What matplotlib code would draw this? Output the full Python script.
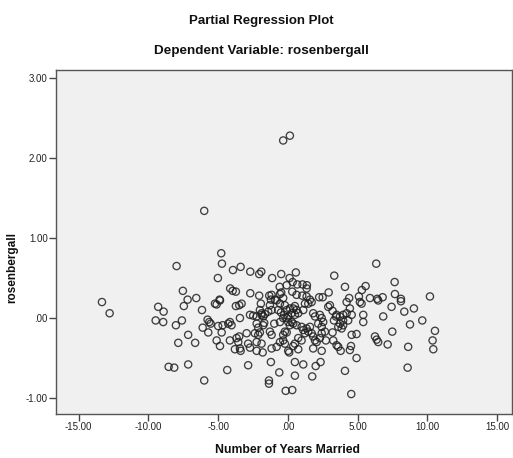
import matplotlib.pyplot as plt
from matplotlib.ticker import FuncFormatter

plt.rcParams['font.family'] = ['Liberation Sans', 'DejaVu Sans']

# partial residuals: years married (x) vs rosenbergall (y)
years = [
    -13.33, -12.78, -6.00, -0.34, 0.14, 6.33, -7.98, -7.53, -7.19, -6.57,
    -7.46, -9.30, -8.91, -9.48, -8.94, -8.03, -7.60, -6.16, -5.76, -6.11,
    -5.71, -7.15, -7.86, -6.65, -8.55, -8.15, -7.15, -6.00, -4.78, -4.73,
    -3.94, -3.39, -5.02, -2.70, -2.06, -1.91, -1.13, -0.48, 0.57, 0.12,
    3.32, -4.14, -3.96, -3.73, -2.70, -2.06, -1.34, -0.59, -0.48, -0.09,
    0.34, 0.67, 1.05, 1.36, 1.34, 0.31, 0.62, 1.03, 1.34, 2.24,
    2.49, 2.92, -4.90, 7.65, 4.09, 5.57, 5.30, 7.67, 10.18, 4.39,
    5.09, 5.88, 6.40, 6.79, 8.10, -5.23, -5.11, -4.87, -3.73, -3.49,
    -3.32, -1.17, -0.57, -1.94, -1.29, -0.81, -0.57, -0.34, -2.01, -1.89,
    -1.41, -1.17, -0.70, -0.50, -0.27, -2.72, -2.49, -2.24, -1.89, -1.77,
    -1.65, -3.44, -4.28, -4.16, -4.04, -2.24, -1.77, -2.13, -1.70, -0.98,
    -0.57, -0.34, -2.96, -2.37, -2.13, -2.01, -1.29, -1.17, -4.16, -3.56,
    -2.85, -2.24, -1.89, -0.57, -0.34, -3.44, -2.72, -1.17, -0.81, -5.64,
    -5.54, -5.00, -4.68, -4.75, -5.11, -4.87, -3.68, -3.49, -3.80, -3.39,
    -2.24, -1.81, 0.02, 0.09, 0.38, 0.74, 2.42, -1.22, -2.85, -4.35,
    -0.62, 0.50, 1.10, 0.50, 1.99, 2.34, 1.74, -1.36, -1.36, -0.16,
    0.31, 4.54, -0.09, 1.58, 1.46, 1.70, 3.01, 2.89, -0.22, -0.09,
    0.14, 0.38, 0.50, 0.27, 0.50, 0.02, -0.09, 0.62, 0.74, 0.27,
    0.38, 0.14, 0.02, 0.62, 1.22, 1.10, 1.81, 1.94, 2.29, 2.42,
    2.53, 2.17, 3.20, 3.30, 3.44, 0.98, 1.34, 1.58, 1.10, 1.22,
    1.46, 1.70, 1.81, 1.94, 2.06, 2.29, 2.42, 2.65, -0.22, -0.34,
    -0.22, 0.74, 0.50, 0.98, 1.81, 3.25, 3.61, 4.21, 5.16, 5.28,
    6.47, 3.49, 3.73, 3.96, 4.21, 4.44, 4.57, 4.32, 3.96, 3.73,
    3.61, 3.85, 3.96, 5.40, 5.40, 6.83, 7.43, 4.57, 4.92, 6.24,
    6.36, 6.47, 7.48, 7.15, 3.49, 4.44, 8.34, 9.03, 9.63, 8.75,
    2.42, 2.72, 3.78, 8.62, 8.58, 10.54, 10.37, 10.42, 4.92, 4.09,
    4.52, 8.10, 3.20, -1.22, -0.93,
]
rosen = [
    0.20, 0.06, 1.34, 2.22, 2.28, 0.68, 0.65, 0.34, 0.23, 0.25,
    0.15, 0.14, 0.08, -0.03, -0.05, -0.09, -0.03, 0.10, -0.02, -0.12,
    -0.18, -0.21, -0.31, -0.31, -0.61, -0.62, -0.58, -0.78, 0.81, 0.68,
    0.60, 0.64, 0.50, 0.58, 0.55, 0.58, 0.50, 0.55, 0.57, 0.50,
    0.53, 0.37, 0.34, 0.33, 0.31, 0.28, 0.28, 0.39, 0.32, 0.41,
    0.45, 0.42, 0.42, 0.41, 0.37, 0.33, 0.29, 0.28, 0.27, 0.26,
    0.26, 0.32, 0.23, 0.45, 0.39, 0.40, 0.35, 0.30, 0.27, 0.25,
    0.27, 0.25, 0.24, 0.26, 0.24, 0.18, 0.17, 0.22, 0.15, 0.16,
    0.18, 0.29, 0.30, 0.18, 0.16, 0.22, 0.18, 0.25, 0.10, 0.06,
    0.08, 0.10, 0.10, 0.07, 0.04, 0.04, 0.03, 0.02, 0.04, 0.02,
    0.05, 0.00, -0.07, -0.05, -0.09, -0.07, -0.09, -0.12, -0.06, -0.07,
    -0.05, 0.00, -0.19, -0.19, -0.21, -0.18, -0.17, -0.21, -0.28, -0.30,
    -0.32, -0.30, -0.32, -0.30, -0.21, -0.38, -0.37, -0.38, -0.36, -0.05,
    -0.07, -0.10, -0.09, -0.18, -0.28, -0.35, -0.25, -0.23, -0.39, -0.41,
    -0.41, -0.43, -0.41, -0.43, -0.35, -0.39, -0.41, -0.55, -0.59, -0.65,
    -0.68, -0.55, -0.58, -0.72, -0.60, -0.55, -0.73, -0.78, -0.82, -0.91,
    -0.90, -0.95, -0.18, 0.23, 0.18, 0.20, 0.16, 0.14, 0.16, 0.10,
    0.12, 0.12, 0.15, 0.06, 0.04, 0.02, 0.00, 0.10, 0.06, -0.05,
    -0.07, -0.09, -0.05, -0.09, 0.18, 0.10, 0.06, 0.02, 0.04, 0.00,
    -0.05, -0.07, 0.09, -0.03, 0.02, -0.11, -0.13, -0.11, -0.15, -0.19,
    -0.17, -0.19, -0.23, -0.28, -0.30, -0.25, -0.19, -0.17, -0.17, -0.28,
    -0.32, -0.25, -0.32, -0.28, -0.38, -0.28, -0.36, 0.20, 0.20, 0.18,
    0.22, 0.04, 0.02, 0.04, 0.06, 0.12, 0.04, -0.03, -0.03, -0.07,
    -0.11, -0.13, -0.09, 0.04, -0.05, 0.02, 0.14, -0.21, -0.20, -0.23,
    -0.27, -0.30, -0.17, -0.33, -0.34, -0.40, 0.08, 0.12, -0.03, -0.08,
    -0.11, -0.28, -0.41, -0.36, -0.62, -0.16, -0.28, -0.39, -0.50, -0.66,
    -0.35, 0.21, -0.18, 0.23, 0.23,
]

x_ticks = [-15, -10, -5, 0, 5, 10, 15]
y_ticks = [-1, 0, 1, 2, 3]


def spss_fmt(v, pos):
    s = f"{v:.2f}"
    if s.startswith("0."):
        s = s[1:]
    elif s.startswith("-0."):
        s = "-" + s[2:]
    return s


fig = plt.figure(figsize=(5.13, 4.58), dpi=100)
ax = fig.add_axes([0.109, 0.096, 0.889, 0.751])
ax.set_facecolor('#f0f0f0')

ax.scatter(years, rosen, s=27, facecolors='none', edgecolors='#202020',
           linewidths=0.95, alpha=0.85)

ax.set_xlim(-16.63, 16.06)
ax.set_ylim(-1.2, 3.1)
ax.set_xticks(x_ticks)
ax.set_yticks(y_ticks)
ax.xaxis.set_major_formatter(FuncFormatter(spss_fmt))
ax.yaxis.set_major_formatter(FuncFormatter(spss_fmt))
ax.tick_params(direction='out', length=5, width=1, color='#444444',
               labelsize=7, labelcolor='#222222', pad=1)
for sp in ax.spines.values():
    sp.set_color('#555555')
    sp.set_linewidth(1)

fig.text(0.509, 0.954, 'Partial Regression Plot', ha='center', va='center',
         fontsize=9.5, fontweight='bold', color='#111111')
fig.text(0.509, 0.889, 'Dependent Variable: rosenbergall', ha='center',
         va='center', fontsize=9.7, fontweight='bold', color='#111111')
fig.text(0.561, 0.0175, 'Number of Years Married', ha='center', va='center',
         fontsize=8.8, fontweight='bold', color='#111111')
fig.text(0.024, 0.415, 'rosenbergall', ha='center', va='center', rotation=90,
         fontsize=8.5, fontweight='bold', color='#111111')

fig.savefig('out.png', dpi=100)
